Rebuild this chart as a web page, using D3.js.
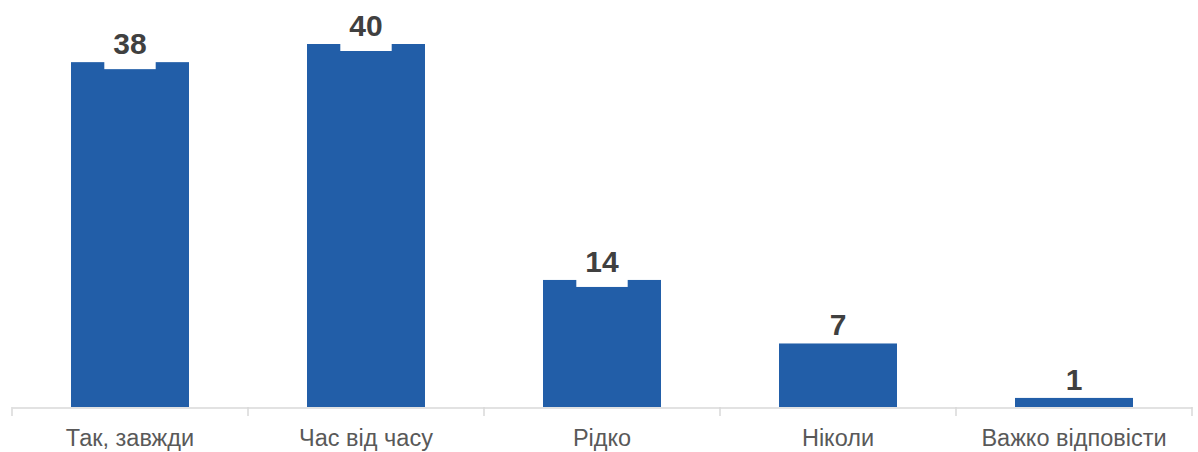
<!DOCTYPE html>
<html><head><meta charset="utf-8">
<script src="https://cdn.jsdelivr.net/npm/d3@7"></script>
<style>body{margin:0;background:#fff}svg{display:block}</style>
</head><body>
<svg id="c" width="1198" height="452"></svg>
<script>
const categories = ["Так, завжди", "Час від часу", "Рідко", "Ніколи", "Важко відповісти"];
const values = [38, 40, 14, 7, 1];

const svg = d3.select("#c");
const x = d3.scaleBand().domain(categories).range([12, 1192]).paddingInner(0.5).paddingOuter(0.25);
const y = d3.scaleLinear().domain([0, 40]).range([407, 44]);

// axis
const axis = d3.axisBottom(x).tickSize(0).tickFormat("");
const ag = svg.append("g").attr("transform", "translate(0,407.5)").call(axis);
ag.select(".domain").attr("stroke", "#d9d9d9").attr("stroke-width", 1.5);
const bounds = [x.range()[0]].concat(categories.map(c => x(c) + x.bandwidth() * 1.5));
svg.append("g").selectAll("line").data(bounds).join("line")
  .attr("x1", d => d).attr("x2", d => d).attr("y1", 407).attr("y2", 416)
  .attr("stroke", "#d9d9d9").attr("stroke-width", 1.5);

// bars
svg.append("g").selectAll("rect").data(values).join("rect")
  .attr("x", (d, i) => x(categories[i]))
  .attr("y", d => y(d))
  .attr("width", x.bandwidth())
  .attr("height", d => y(0) - y(d))
  .attr("fill", "#225ea8");

// label boxes + labels
const lg = svg.append("g");
values.forEach((v, i) => {
  const cx = x(categories[i]) + x.bandwidth() / 2;
  const t = lg.append("text").attr("x", cx).attr("y", y(v) - 8)
    .attr("text-anchor", "middle").attr("font-family", "Liberation Sans, Arial, sans-serif")
    .attr("font-weight", "bold").attr("font-size", 30).attr("fill", "#404040").text(v);
  if (String(v).length > 1) {
    const w = t.node().getComputedTextLength() + 18;
    lg.insert("rect", "text").attr("x", cx - w / 2).attr("y", y(v) - 30).attr("width", w)
      .attr("height", 37).attr("fill", "#fff");
  }
});

// category labels
svg.append("g").selectAll("text").data(categories).join("text")
  .attr("x", d => x(d) + x.bandwidth() / 2).attr("y", 446)
  .attr("text-anchor", "middle").attr("font-family", "Liberation Sans, Arial, sans-serif")
  .attr("font-size", 23.5).attr("fill", "#595959").text(d => d);
</script>
</body></html>
